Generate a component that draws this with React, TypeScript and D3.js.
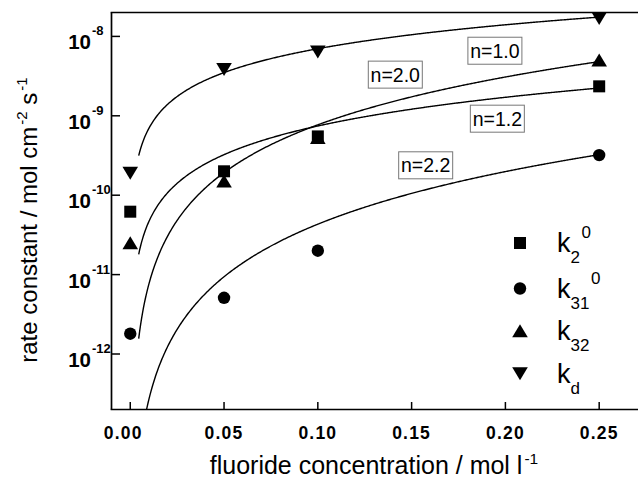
import React from "react";
import * as d3 from "d3";

// ---- data ----
const concentration = [0, 0.05, 0.1, 0.25];
const k2_0 = [6.2e-11, 2.0e-10, 5.5e-10, 2.35e-9];
const k31_0 = [1.8e-12, 5.1e-12, 2.0e-11, 3.2e-10];
const k32 = [2.5e-11, 1.5e-10, 5.3e-10, 5.0e-9];
const kd = [1.9e-10, 3.86e-9, 6.4e-9, 1.7e-8];

// power-law fits k = A * c^n
const fitExponent = [1.2, 2.2, 2.0, 1.0];
const fitPrefactor = [1.18e-8, 6.84e-9, 7.7e-8, 7.0e-8];
const fitRange = [0.0045, 0.25];

const fitLabels = ["n=1.2", "n=2.2", "n=2.0", "n=1.0"];
const fitLabelAt = [
  [0.1957, 9.2e-10],
  [0.1575, 2.38e-10],
  [0.1413, 3.3e-9],
  [0.1944, 6.6e-9],
];

const xTicks = [0, 0.05, 0.1, 0.15, 0.2, 0.25];
const xTickLabels = ["0.00", "0.05", "0.10", "0.15", "0.20", "0.25"];
const yTickExponents = [-8, -9, -10, -11, -12];

const seriesNames = ["2", "31", "32", "d"];
const seriesSup = ["0", "0", "", ""];
const seriesSymbols = ["square", "circle", "triangleUp", "triangleDown"];
const seriesValues = [k2_0, k31_0, k32, kd];

const W = 638;
const H = 479;
const left = 111.5;
const top = 12.5;
const bottom = 409.5;
const right = 636.7;

const FONT = "'Liberation Sans', Arial, Helvetica, sans-serif";

function Marker({ type, cx, cy }: { type: string; cx: number; cy: number }) {
  if (type === "square") return <rect x={cx - 6} y={cy - 6} width={12} height={12} fill="#000" />;
  if (type === "circle") return <circle cx={cx} cy={cy} r={6.2} fill="#000" />;
  if (type === "triangleUp")
    return <path d={`M${cx},${cy - 6.8}L${cx + 7.8},${cy + 6.2}L${cx - 7.8},${cy + 6.2}Z`} fill="#000" />;
  return <path d={`M${cx},${cy + 6.8}L${cx + 7.8},${cy - 6.2}L${cx - 7.8},${cy - 6.2}Z`} fill="#000" />;
}

export default function App() {
  const x = d3.scaleLinear().domain([-0.01, 0.27]).range([left, right]);
  const y = d3.scaleLog().domain([2e-13, 2e-8]).range([bottom, top]);

  const line = d3
    .line<number>()
    .x((c) => x(c))
    .curve(d3.curveLinear);

  const cs = d3.range(fitRange[0], fitRange[1] + 1e-9, 0.0005);
  cs.push(fitRange[1]);

  const legendRows = [243, 288.5, 331, 373.5];

  return (
    <svg
      width={W}
      height={H}
      style={{ position: "absolute", left: 0, top: 0, background: "#fff" }}
      fontFamily={FONT}
    >
      <rect x={0} y={0} width={W} height={H} fill="#fff" />
      <defs>
        <clipPath id="plot">
          <rect x={left} y={top} width={W - left} height={bottom - top} />
        </clipPath>
      </defs>

      {/* fit curves */}
      <g clipPath="url(#plot)" fill="none" stroke="#000" strokeWidth={1.4}>
        {fitExponent.map((n, i) => (
          <path
            key={i}
            d={line.y((c) => y(fitPrefactor[i] * Math.pow(c, n)))(cs) || ""}
          />
        ))}
      </g>

      {/* fit labels */}
      {fitLabels.map((t, i) => {
        const cx = x(fitLabelAt[i][0]);
        const cy = y(fitLabelAt[i][1]);
        return (
          <g key={t}>
            <rect x={cx - 27} y={cy - 13.5} width={54} height={27} fill="#fff" stroke="#777" strokeWidth={1} />
            <text x={cx} y={cy + 7} textAnchor="middle" fontSize={19.5} fill="#000">
              {t}
            </text>
          </g>
        );
      })}

      {/* data points */}
      {seriesValues.map((vals, si) =>
        vals.map((v, j) => (
          <Marker key={`${si}-${j}`} type={seriesSymbols[si]} cx={x(concentration[j])} cy={y(v)} />
        ))
      )}

      {/* frame */}
      <g stroke="#000" strokeWidth={1.7} fill="none">
        <line x1={left} y1={top} x2={left} y2={bottom} />
        <line x1={left - 0.85} y1={top} x2={W} y2={top} />
        <line x1={left - 0.85} y1={bottom} x2={W} y2={bottom} />
      </g>

      {/* x ticks */}
      {xTicks.map((t, i) => (
        <g key={t}>
          <line x1={x(t)} x2={x(t)} y1={bottom} y2={bottom - 7.5} stroke="#000" strokeWidth={1.5} />
          <text
            x={x(t) + (i === 0 ? -7 : 0)}
            y={438.5}
            textAnchor="middle"
            fontSize={17.5}
            fontWeight="bold"
            letterSpacing={1.2}
          >
            {xTickLabels[i]}
          </text>
        </g>
      ))}

      {/* y ticks */}
      {yTickExponents.map((e) => {
        const ty = y(Math.pow(10, e));
        return (
          <g key={e}>
            <line x1={left} x2={left + 8.5} y1={ty} y2={ty} stroke="#000" strokeWidth={1.5} />
            <text x={91} y={ty + 13} textAnchor="end" fontSize={20.5} fontWeight="bold">
              10
            </text>
            <text x={92} y={ty - 1} fontSize={13} fontWeight="bold">
              {String(e)}
            </text>
          </g>
        );
      })}

      {/* legend */}
      {seriesNames.map((nm, i) => (
        <g key={nm}>
          <Marker type={seriesSymbols[i]} cx={520} cy={legendRows[i]} />
          <text x={557} y={legendRows[i] + 9} fontSize={27}>
            k
            <tspan fontSize={17} dy={11}>
              {nm}
            </tspan>
            {seriesSup[i] ? (
              <tspan fontSize={17} dy={-25} dx={1.5}>
                {seriesSup[i]}
              </tspan>
            ) : null}
          </text>
        </g>
      ))}

      {/* axis titles */}
      <text x={374} y={474} textAnchor="middle" fontSize={25}>
        fluoride concentration / mol l
        <tspan fontSize={15.5} dy={-10} dx={2}>
          -1
        </tspan>
      </text>
      <text transform="translate(37,220) rotate(-90)" textAnchor="middle" fontSize={24}>
        rate constant / mol cm
        <tspan fontSize={15} dy={-10} dx={2}>
          -2
        </tspan>
        <tspan dy={10}> s</tspan>
        <tspan fontSize={15} dy={-10} dx={2}>
          -1
        </tspan>
      </text>
    </svg>
  );
}
